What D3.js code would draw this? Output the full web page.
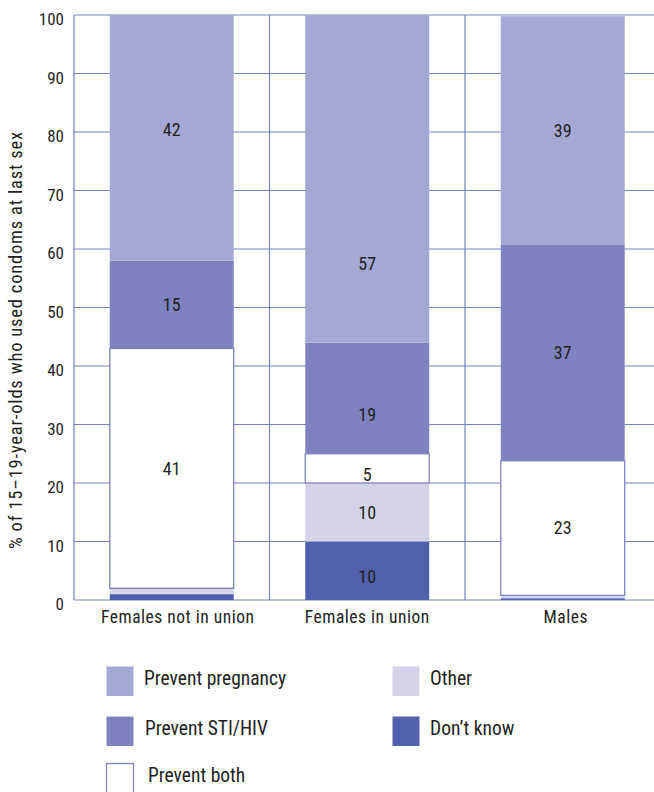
<!DOCTYPE html>
<html>
<head>
<meta charset="utf-8">
<script src="https://cdn.jsdelivr.net/npm/d3@7"></script>
<style>
  body { margin: 0; background: #fff; }
  svg { display: block; }
  text { font-family: "Roboto Condensed", "Roboto", sans-serif; fill: #231f20; }
</style>
</head>
<body>
<svg id="chart" width="654" height="792"></svg>
<script>
// Reasons for condom use at last sex, 15–19-year-olds (%)
const groups = ["Females not in union", "Females in union", "Males"];
const reasons = ["Don’t know", "Other", "Prevent both", "Prevent STI/HIV", "Prevent pregnancy"];
const dontKnow = [1, 10, 0.3];
const other = [1, 10, 0.5];
const preventBoth = [41, 5, 23];
const preventSti = [15, 19, 37];
const preventPregnancy = [42, 57, 39];
const yTicks = [0, 10, 20, 30, 40, 50, 60, 70, 80, 90, 100];
const yTitle = "% of 15–19-year-olds who used condoms at last sex";
const legendCol1 = ["Prevent pregnancy", "Prevent STI/HIV", "Prevent both"];
const legendCol2 = ["Other", "Don’t know"];

const seriesValues = {
  "Don’t know": dontKnow,
  "Other": other,
  "Prevent both": preventBoth,
  "Prevent STI/HIV": preventSti,
  "Prevent pregnancy": preventPregnancy
};

const fills = {
  "Prevent pregnancy": "#a5a7d4",
  "Prevent STI/HIV": "#7e83c0",
  "Prevent both": "#ffffff",
  "Other": "#d3d4e9",
  "Don’t know": "#5060ac"
};
const gridColor = "#7584c8";
const outlineColor = "#7c82c0";

const rows = groups.map((g, i) => {
  const r = { group: g };
  reasons.forEach(k => { r[k] = seriesValues[k][i]; });
  return r;
});

const svg = d3.select("#chart");
const plot = { left: 74, right: 660.5, top: 15, bottom: 600 };

const x = d3.scaleBand()
  .domain(groups)
  .range([plot.left, plot.right])
  .paddingInner(0.366)
  .paddingOuter(0.183);

// totals above 100 (rounded shares) are held at the top of the frame
const y = d3.scaleLinear()
  .domain([0, 100])
  .range([plot.bottom, plot.top])
  .clamp(true);

const stacked = d3.stack().keys(reasons)(rows);

// horizontal gridlines
svg.append("g")
  .selectAll("line")
  .data(yTicks)
  .join("line")
  .attr("x1", plot.left)
  .attr("x2", 654)
  .attr("y1", d => y(d))
  .attr("y2", d => y(d))
  .attr("stroke", gridColor)
  .attr("stroke-width", 1.2);

// group separators
const step = x.step();
svg.append("g")
  .selectAll("line")
  .data(groups.slice(1))
  .join("line")
  .attr("x1", d => x(d) - step * x.paddingInner() / 2)
  .attr("x2", d => x(d) - step * x.paddingInner() / 2)
  .attr("y1", plot.top)
  .attr("y2", plot.bottom)
  .attr("stroke", gridColor)
  .attr("stroke-width", 1.2);

// y axis line
svg.append("line")
  .attr("x1", plot.left).attr("x2", plot.left)
  .attr("y1", plot.top).attr("y2", plot.bottom)
  .attr("stroke", gridColor).attr("stroke-width", 1.2);

// stacked bars
const layers = svg.append("g")
  .selectAll("g")
  .data(stacked)
  .join("g")
  .attr("fill", d => fills[d.key]);

layers.selectAll("rect")
  .data(d => d.map(s => ({ key: d.key, s })))
  .join("rect")
  .attr("x", d => x(d.s.data.group))
  .attr("width", x.bandwidth())
  .attr("y", d => y(d.s[1]))
  .attr("height", d => Math.max(0, y(d.s[0]) - y(d.s[1])))
  .attr("stroke", d => d.key === "Prevent both" ? outlineColor : "none")
  .attr("stroke-width", 1.3);

// value labels, nudged where the layout sets them off-centre
const labelNudge = {
  "Females not in union|Prevent pregnancy": -8,
  "Females in union|Prevent pregnancy": 85,
  "Females in union|Prevent STI/HIV": 17,
  "Females in union|Prevent both": 6,
  "Females in union|Don’t know": 6
};
const labels = [];
stacked.forEach(layer => {
  layer.forEach(s => {
    const v = s[1] - s[0];
    if (v >= 5) {
      labels.push({ key: layer.key, group: s.data.group, v, y0: s[0], y1: s[1] });
    }
  });
});
svg.append("g")
  .selectAll("text")
  .data(labels)
  .join("text")
  .attr("x", d => x(d.group) + x.bandwidth() / 2)
  .attr("y", d => (y(d.y0) + y(d.y1)) / 2 + (labelNudge[d.group + "|" + d.key] || 0))
  .attr("dy", "0.35em")
  .attr("text-anchor", "middle")
  .attr("font-size", 18)
  .text(d => d3.format("d")(d.v));

// y axis tick labels
const yAxis = d3.axisLeft(y).tickValues(yTicks).tickSize(0).tickPadding(10);
const yg = svg.append("g").attr("transform", `translate(${plot.left},0)`).call(yAxis);
yg.select(".domain").remove();
yg.attr("font-family", null).attr("font-size", null);
yg.selectAll("text")
  .attr("font-size", 17)
  .attr("dy", "0.58em");

// x axis labels
const xAxis = d3.axisBottom(x).tickSize(0).tickPadding(11);
const xg = svg.append("g").attr("transform", `translate(0,${plot.bottom})`).call(xAxis);
xg.select(".domain").remove();
xg.attr("font-family", null).attr("font-size", null);
const catShift = { "Females not in union": 6, "Females in union": 0, "Males": 3 };
xg.selectAll("text")
  .attr("font-size", 17.5)
  .attr("letter-spacing", 0.5)
  .attr("dx", d => catShift[d]);

// y axis title
svg.append("text")
  .attr("transform", `translate(22,340) rotate(-90)`)
  .attr("text-anchor", "middle")
  .attr("font-size", 18.5)
  .attr("letter-spacing", 0.8)
  .text(yTitle);

// legend
const legend = svg.append("g");
const sw = { w: 27, h: 29.5 };
function legendItem(name, sx, sy, tx) {
  legend.append("rect")
    .attr("x", sx).attr("y", sy)
    .attr("width", sw.w).attr("height", sw.h)
    .attr("fill", fills[name])
    .attr("stroke", name === "Prevent both" ? outlineColor : "none")
    .attr("stroke-width", 1.3);
  legend.append("text")
    .attr("x", tx).attr("y", sy + sw.h / 2 - 3)
    .attr("dy", "0.35em")
    .attr("font-size", 19.5)
    .text(name);
}
const rowY = [666.5, 716.5, 763.5];
const col1TextX = [144, 145, 148];
legendCol1.forEach((n, i) => legendItem(n, 106.5, rowY[i], col1TextX[i]));
legendCol2.forEach((n, i) => legendItem(n, 392.5, rowY[i], 430));
</script>
</body>
</html>
